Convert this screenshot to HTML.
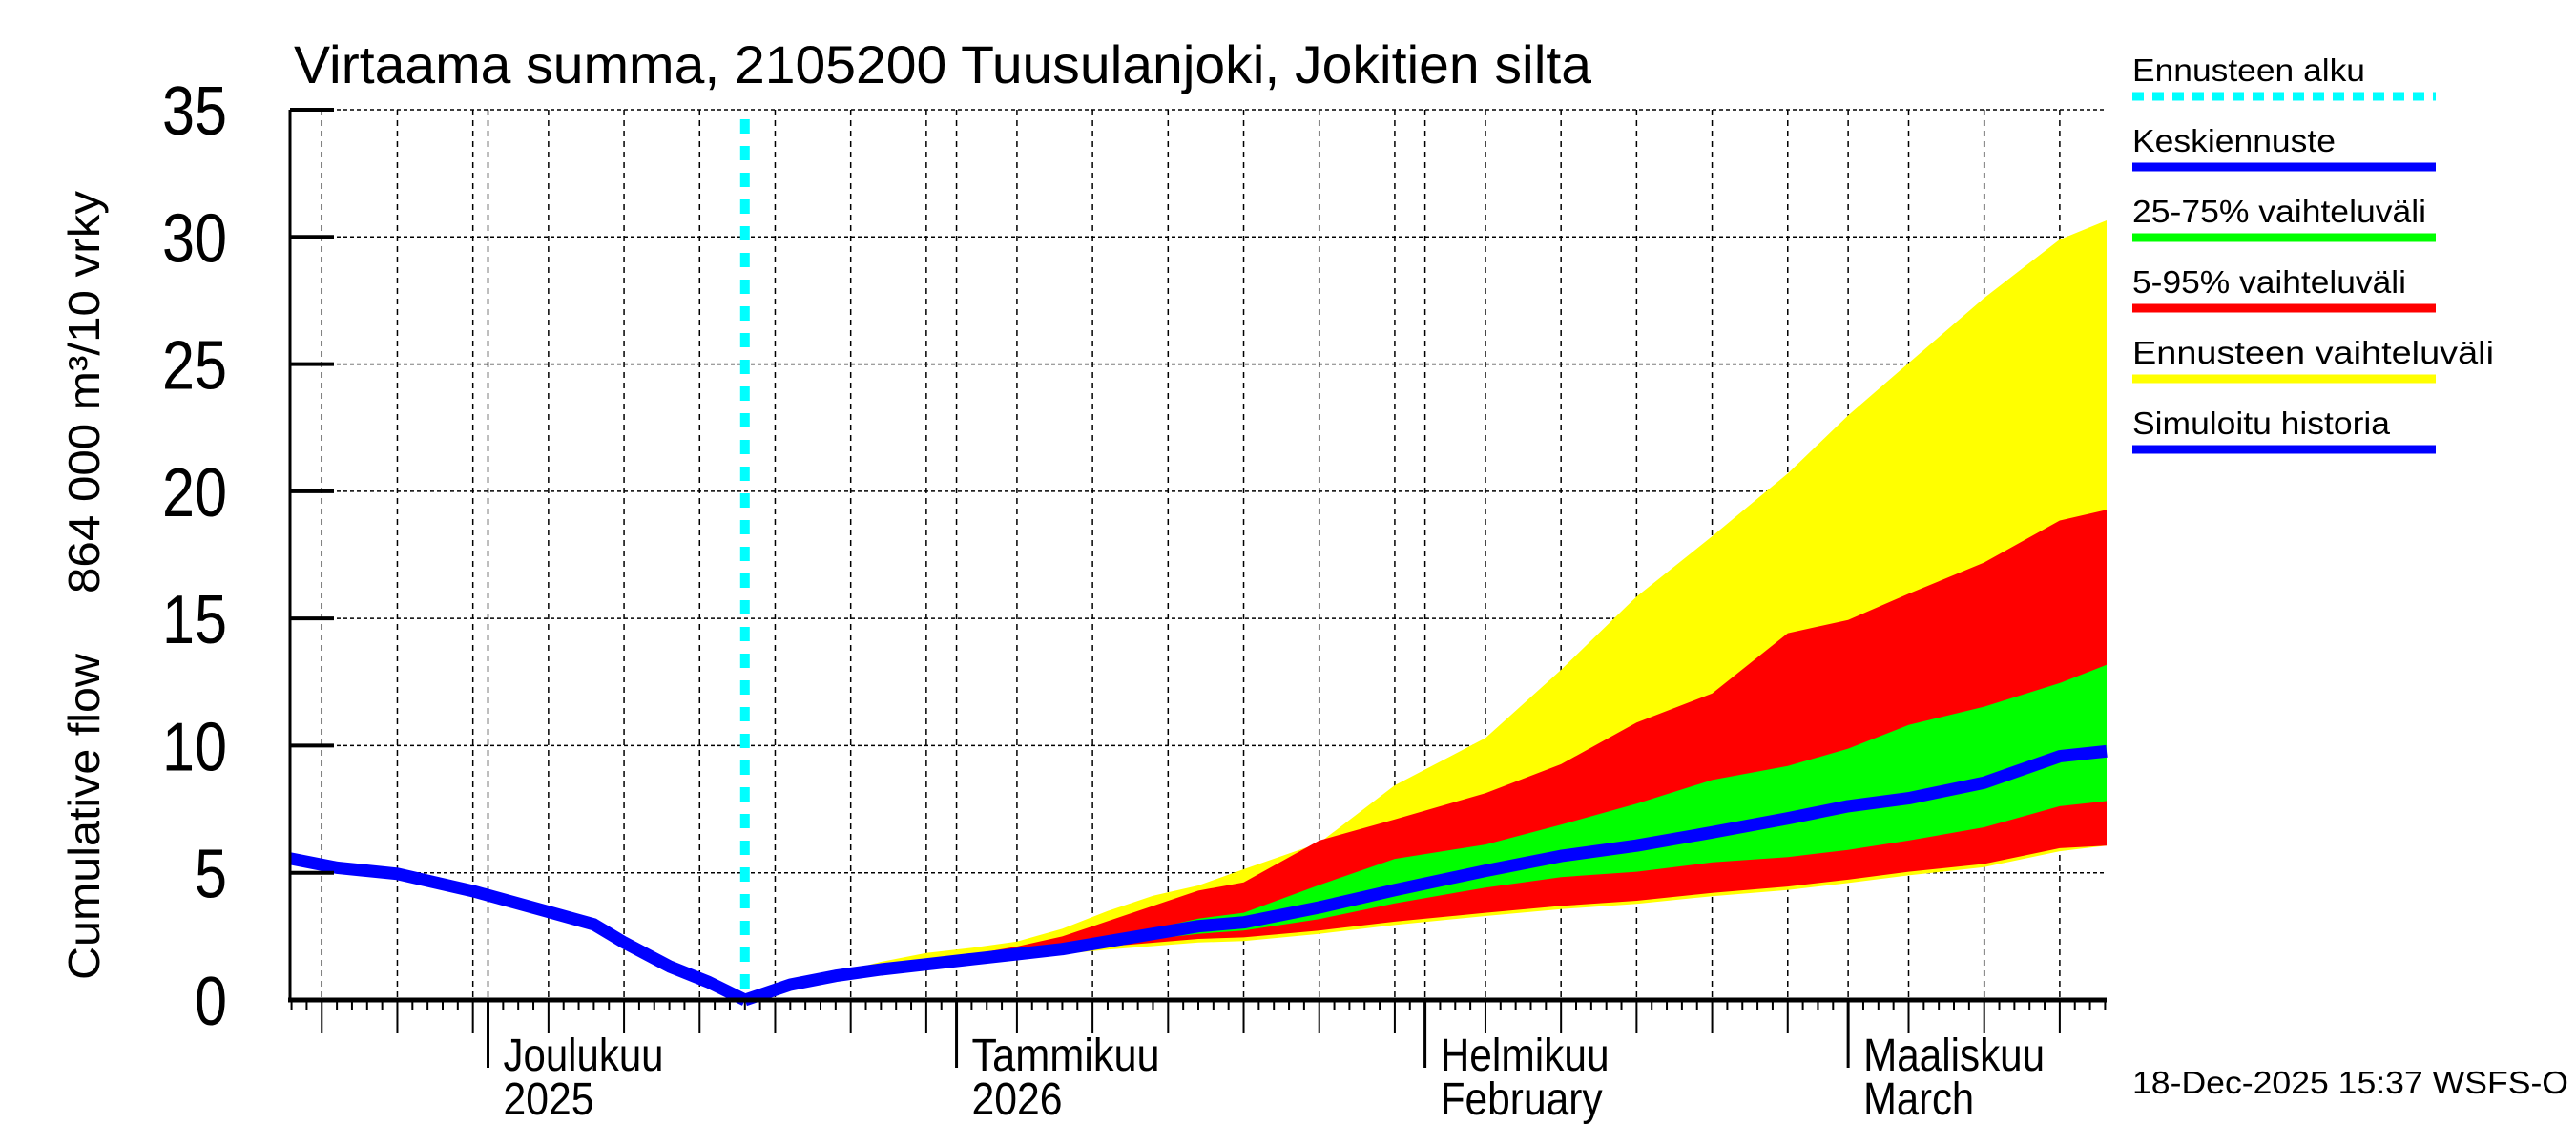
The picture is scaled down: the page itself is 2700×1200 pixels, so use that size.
<!DOCTYPE html>
<html><head><meta charset="utf-8"><style>
html,body{margin:0;padding:0;background:#fff;}
svg{display:block;font-family:"Liberation Sans",sans-serif;}
</style></head><body>
<svg id="chart" width="2700" height="1200" viewBox="0 0 2700 1200" xmlns="http://www.w3.org/2000/svg">
<g id="grid"></g>
<g id="bands"></g>
<g id="lines"></g>
<g id="axes"></g>
<text x="308" y="87" font-size="56" textLength="1360" lengthAdjust="spacingAndGlyphs">Virtaama summa, 2105200 Tuusulanjoki, Jokitien silta</text>
<text transform="translate(104,1027) rotate(-90)" font-size="46" textLength="342" lengthAdjust="spacingAndGlyphs">Cumulative flow</text>
<text transform="translate(104,622) rotate(-90)" font-size="46" textLength="422" lengthAdjust="spacingAndGlyphs">864 000 m³/10 vrky</text>
<g id="legend"></g>
<text x="2235" y="1146" font-size="33" textLength="457" lengthAdjust="spacingAndGlyphs">18-Dec-2025 15:37 WSFS-O</text>
</svg>
<script>
// days relative to 1 Dec 2025
const histDays = [-13.1, -10, -6, -1, 3.6, 7, 9, 12, 14.6, 17];
const histVals = [5.56, 5.2, 4.96, 4.28, 3.53, 2.97, 2.26, 1.32, 0.7, 0];
const fcDays = [17, 20, 23, 26, 29, 32, 35, 38, 41, 44, 47, 50, 55, 60, 66, 71, 76, 81, 86, 90, 94, 99, 104, 107.1];
const yellowTop = [0, 0.7, 1.05, 1.5, 1.85, 2.05, 2.3, 2.8, 3.5, 4.1, 4.5, 5.14, 6.17, 8.44, 10.3, 12.98, 15.86, 18.23, 20.7, 22.98, 25.04, 27.6, 29.9, 30.65];
const redTop = [0, 0.65, 0.95, 1.3, 1.6, 1.8, 2.1, 2.5, 3.1, 3.7, 4.3, 4.62, 6.27, 7.1, 8.13, 9.27, 10.91, 12.05, 14.42, 14.94, 15.97, 17.2, 18.85, 19.27];
const greenTop = [0, 0.6, 0.95, 1.2, 1.4, 1.6, 1.8, 2.1, 2.5, 2.8, 3.2, 3.43, 4.52, 5.55, 6.11, 6.89, 7.72, 8.65, 9.2, 9.88, 10.81, 11.53, 12.46, 13.18];
const median = [0, 0.6, 0.95, 1.2, 1.4, 1.6, 1.8, 2.0, 2.3, 2.6, 2.9, 3.05, 3.64, 4.32, 5.08, 5.66, 6.07, 6.59, 7.14, 7.62, 7.93, 8.54, 9.58, 9.78];
const greenBot = [0, 0.6, 0.95, 1.2, 1.4, 1.6, 1.8, 1.95, 2.2, 2.4, 2.6, 2.73, 3.18, 3.8, 4.42, 4.83, 5.04, 5.41, 5.62, 5.9, 6.27, 6.79, 7.62, 7.82];
const redBot = [0, 0.6, 0.9, 1.15, 1.35, 1.5, 1.75, 1.9, 2.1, 2.25, 2.4, 2.46, 2.73, 3.08, 3.43, 3.7, 3.9, 4.21, 4.46, 4.73, 5.04, 5.35, 5.97, 6.07];
const yellowBot = [0, 0.55, 0.85, 1.1, 1.28, 1.42, 1.65, 1.8, 1.98, 2.12, 2.26, 2.32, 2.6, 2.95, 3.3, 3.57, 3.78, 4.08, 4.32, 4.6, 4.9, 5.22, 5.85, 6.07];
const yTicks = [0, 5, 10, 15, 20, 25, 30, 35];
const forecastStart = 17;

const NS = "http://www.w3.org/2000/svg";
const X0 = 304, X1 = 2208, D0 = -13.1, D1 = 107.1;
const Y0 = 1048, YT = 115, V1 = 35;
const xs = d => X0 + (d - D0) * (X1 - X0) / (D1 - D0);
const ys = v => Y0 - v * (Y0 - YT) / V1;
function mk(tag, attrs, parent) {
  const e = document.createElementNS(NS, tag);
  for (const k in attrs) e.setAttribute(k, attrs[k]);
  parent.appendChild(e);
  return e;
}
const grid = document.getElementById('grid');
const bands = document.getElementById('bands');
const lines = document.getElementById('lines');
const axes = document.getElementById('axes');
const legend = document.getElementById('legend');

// month starts and gridline days
const monthStarts = [-30, 0, 31, 62, 90];
const gridDays = [];
for (let d = -12; d <= 107; d++) {
  const dt = new Date(2025, 11, 1 + d);
  const dom = dt.getDate();
  if (dom === 1 || dom % 5 === 0) gridDays.push({d: d, month: dom === 1});
}
gridDays.forEach(g => {
  const x = xs(g.d);
  const l = mk('line', {x1: x, x2: x, y1: YT, y2: Y0, stroke: '#000', 'stroke-width': 1.5, 'stroke-dasharray': '6 5'}, grid);
  
  
});
yTicks.forEach(v => {
  if (v === 0) return;
  const l = mk('line', {x1: X0, x2: X1, y1: ys(v), y2: ys(v), stroke: '#000', 'stroke-width': 1.5, 'stroke-dasharray': '4 3'}, grid);
  
  
});

function band(top, bot, color, name) {
  let p = '';
  fcDays.forEach((d, i) => p += (i ? 'L' : 'M') + xs(d).toFixed(1) + ',' + ys(top[i]).toFixed(1));
  for (let i = fcDays.length - 1; i >= 0; i--) p += 'L' + xs(fcDays[i]).toFixed(1) + ',' + ys(bot[i]).toFixed(1);
  const e = mk('path', {d: p + 'Z', fill: color}, bands);
  
  
}
band(yellowTop, yellowBot, '#ffff00', 'full-range-band');
band(redTop, redBot, '#ff0000', 'band-5-95');
band(greenTop, greenBot, '#00ff00', 'band-25-75');

function line(days, vals, name) {
  const pts = days.map((d, i) => xs(d).toFixed(1) + ',' + ys(vals[i]).toFixed(1)).join(' ');
  const e = mk('polyline', {points: pts, fill: 'none', stroke: '#0000ff', 'stroke-width': 13, 'stroke-linejoin': 'round'}, lines);
  
  
}
line(histDays, histVals, 'simulated-history-line');
line(fcDays, median, 'median-forecast-line');
const fs = mk('line', {x1: xs(forecastStart), x2: xs(forecastStart), y1: YT + 10, y2: Y0, stroke: '#00ffff', 'stroke-width': 10, 'stroke-dasharray': '15 13'}, lines);



// axes
let a = mk('line', {x1: X0, x2: X0, y1: YT, y2: Y0, stroke: '#000', 'stroke-width': 3}, axes);


a = mk('line', {x1: X0 - 2, x2: X1, y1: Y0, y2: Y0, stroke: '#000', 'stroke-width': 5}, axes);


yTicks.forEach(v => {
  const t = mk('line', {x1: X0, x2: X0 + 46, y1: ys(v), y2: ys(v), stroke: '#000', 'stroke-width': 4}, axes);
  
  
  const s = String(v);
  const lab = mk('text', {x: 238, y: ys(v) + 26, 'font-size': 72, 'text-anchor': 'end', textLength: s.length * 34, lengthAdjust: 'spacingAndGlyphs'}, axes);
  lab.textContent = s;
  
  
});
for (let d = -13; d <= 107; d++) {
  const g = gridDays.find(q => q.d === d);
  const len = g ? (g.month ? 71 : 35) : 10;
  const t = mk('line', {x1: xs(d), x2: xs(d), y1: Y0, y2: Y0 + len, stroke: '#000', 'stroke-width': g && g.month ? 3 : 2}, axes);
  
  
}
const monthLabels = [
  {d: 0, a: 'Joulukuu', aw: 168, b: '2025', bw: 95},
  {d: 31, a: 'Tammikuu', aw: 197, b: '2026', bw: 95},
  {d: 62, a: 'Helmikuu', aw: 177, b: 'February', bw: 170},
  {d: 90, a: 'Maaliskuu', aw: 190, b: 'March', bw: 116}
];
monthLabels.forEach(m => {
  const x = xs(m.d) + 16;
  const t1 = mk('text', {x: x, y: 1122, 'font-size': 48, textLength: m.aw, lengthAdjust: 'spacingAndGlyphs'}, axes);
  t1.textContent = m.a;
  
  
  const t2 = mk('text', {x: x, y: 1168, 'font-size': 48, textLength: m.bw, lengthAdjust: 'spacingAndGlyphs'}, axes);
  t2.textContent = m.b;
  
  
});

// legend
const legItems = [
  {t: 'Ennusteen alku', w: 244, c: '#00ffff', dash: true},
  {t: 'Keskiennuste', w: 213, c: '#0000ff'},
  {t: '25-75% vaihteluväli', w: 308, c: '#00ff00'},
  {t: '5-95% vaihteluväli', w: 287, c: '#ff0000'},
  {t: 'Ennusteen vaihteluväli', w: 379, c: '#ffff00'},
  {t: 'Simuloitu historia', w: 270, c: '#0000ff'}
];
legItems.forEach((it, i) => {
  const by = 85 + i * 74;
  const tx = mk('text', {x: 2235, y: by, 'font-size': 33, textLength: it.w, lengthAdjust: 'spacingAndGlyphs'}, legend);
  tx.textContent = it.t;
  
  
  const attrs = {x1: 2235, x2: 2553, y1: by + 16, y2: by + 16, stroke: it.c, 'stroke-width': 9};
  if (it.dash) attrs['stroke-dasharray'] = '12 9';
  const ln = mk('line', attrs, legend);
  
  
});
</script>
</body></html>
